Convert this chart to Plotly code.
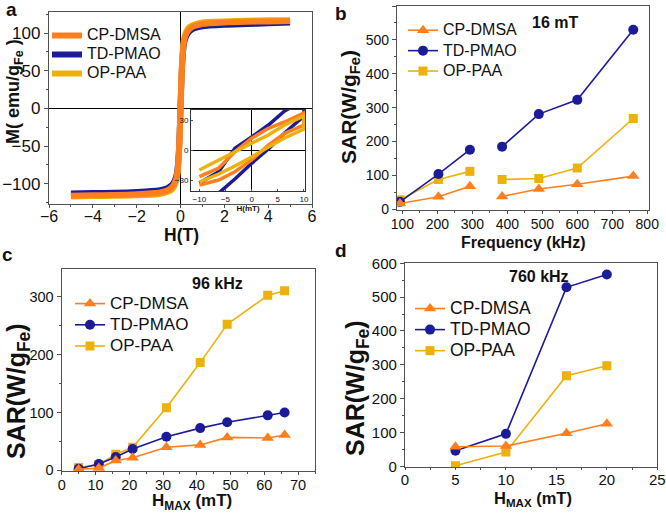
import plotly.graph_objects as go

# ---------------- data ----------------
names = ["CP-DMSA", "TD-PMAO", "OP-PAA"]
colors = {"CP-DMSA": "#FF7F1E", "TD-PMAO": "#1C1C98", "OP-PAA": "#EDB10C"}
symbols = {"CP-DMSA": "triangle-up", "TD-PMAO": "circle", "OP-PAA": "square"}
msize = {"CP-DMSA": 11, "TD-PMAO": 10, "OP-PAA": 9}

# panel a: M(H) main curves
H_T = [-5, -4, -3, -2, -1, -0.6, -0.4, -0.3, -0.2, -0.15, -0.1, -0.05, 0,
       0.05, 0.1, 0.15, 0.2, 0.3, 0.4, 0.6, 1, 2, 3, 4, 5]
M_cp = [-116, -115.5, -115, -114, -112, -109, -105, -101, -94, -87, -72, -45, 0,
        45, 72, 87, 94, 101, 105, 109, 112, 114, 115, 115.5, 116]
M_td = [-113, -112.5, -112, -111, -109, -106, -102, -98, -91, -84, -69, -43, 0,
        43, 69, 84, 91, 98, 102, 106, 109, 111, 112, 113, 114]
M_op = [-117, -116.5, -116, -115.5, -114, -111, -108, -104, -97, -90, -75, -47, 0,
        47, 75, 90, 97, 104, 108, 111, 114, 115.5, 116.5, 117, 117]

# panel a inset: loops (lower branch -10 -> 10, then upper branch 10 -> -10), H in mT
loop_H = [-10, -6.3, -3.2, 0, 3.2, 6.3, 10, 10, 6.3, 3.2, 0, -3.2, -6.3, -10]
loop_cp = [-35, -30, -21.7, -10, 5, 16.7, 25, 37, 28, 21.7, 11.7, -1.7, -18, -26.7]
loop_td = [-50, -43, -29, -13.3, 1, 17, 34, 50, 39, 25, 13, 1.7, -21.7, -33]
loop_op = [-32, -24, -16, -7, 3, 12, 21, 34, 25, 15, 6.7, -2, -10, -20]

# panel b: SAR vs frequency at 16 mT (gap between 300 and 385 kHz)
freq = [93, 203, 293, None, 385, 490, 600, 760]
b_cp = [17, 37, 68, None, 38, 60, 74, 98]
b_td = [22, 104, 176, None, 185, 281, 323, 530]
b_op = [28, 88, 112, None, 88, 91, 122, 268]

# panel c: SAR vs Hmax at 96 kHz
hc = [5, 11, 16, 21, 31, 41, 49, 61, 66]
c_cp = [2, 4, 17, 22, 40, 44, 57, 56, 61]
c_td = [3, 11, 23, 37, 58, 73, 83, 95, 100]
c_op = [5, 10, 28, 40, 108, 186, 252, 302, 310]

# panel d: SAR vs Hmax at 760 kHz
hd = [5, 10, 16, 20]
d_cp = [58, 60, 98, 126]
d_td = [46, 96, 529, 567]
d_op = [2, 42, 268, 297]

FONT = "Liberation Sans, Arial, sans-serif"
AX = "#505050"
RANK = {"CP-DMSA": 1, "TD-PMAO": 2, "OP-PAA": 3}
LEGSIZE = {"legend": 16, "legend2": 16, "legend3": 17, "legend4": 17.5}

def lname(nm, lg):
    return '<span style="font-size:%spx">%s</span>' % (LEGSIZE[lg], nm)

fig = go.Figure()

# ---- panel a ----
for nm, M in [("TD-PMAO", M_td), ("OP-PAA", M_op), ("CP-DMSA", M_cp)]:
    fig.add_trace(go.Scatter(x=H_T, y=M, mode="lines", name=lname(nm, "legend"),
                             line=dict(color=colors[nm], width=6, shape="spline", smoothing=0.6),
                             xaxis="x", yaxis="y", legend="legend", legendrank=RANK[nm]))
for nm, L in [("TD-PMAO", loop_td), ("CP-DMSA", loop_cp), ("OP-PAA", loop_op)]:
    fig.add_trace(go.Scatter(x=loop_H, y=L, mode="lines", showlegend=False,
                             line=dict(color=colors[nm], width=3.5),
                             xaxis="x5", yaxis="y5"))

# ---- panels b, c, d ----
panel_data = [
    ("x2", "y2", "legend2", freq, {"CP-DMSA": b_cp, "TD-PMAO": b_td, "OP-PAA": b_op}),
    ("x3", "y3", "legend3", hc, {"CP-DMSA": c_cp, "TD-PMAO": c_td, "OP-PAA": c_op}),
    ("x4", "y4", "legend4", hd, {"CP-DMSA": d_cp, "TD-PMAO": d_td, "OP-PAA": d_op}),
]
for xa, ya, lg, xs, ser in panel_data:
    for nm in ["OP-PAA", "TD-PMAO", "CP-DMSA"]:
        fig.add_trace(go.Scatter(x=xs, y=ser[nm], mode="lines+markers", name=lname(nm, lg),
                                 line=dict(color=colors[nm], width=1.6),
                                 marker=dict(symbol=symbols[nm], size=msize[nm], color=colors[nm]),
                                 xaxis=xa, yaxis=ya, legend=lg, connectgaps=False,
                                 legendrank=RANK[nm]))

def axis(domain, rng, dtick, minor_dtick, tsize, anchor, zl=False, tl=4, so=0):
    return dict(domain=domain, range=rng, dtick=dtick, tick0=0, anchor=anchor, automargin=False,
                showline=True, linecolor=AX, linewidth=1.3, mirror=True,
                ticks="outside", ticklen=tl, tickwidth=1.2, tickcolor=AX, ticklabelstandoff=so,
                minor=dict(dtick=minor_dtick, ticks="outside", ticklen=2, tickcolor=AX, tickwidth=1),
                showgrid=False, zeroline=zl, zerolinecolor="black", zerolinewidth=1,
                tickfont=dict(size=tsize, color="#111", family=FONT))

W, Hh = 666, 513
def dx(a, b): return [a / W, b / W]
def dy(top, bot): return [1 - bot / Hh, 1 - top / Hh]

lay = dict(
    width=W, height=Hh, margin=dict(l=0, r=0, t=0, b=0, autoexpand=False),
    paper_bgcolor="white", plot_bgcolor="white",
    font=dict(family=FONT, color="#111"),
    xaxis=axis(dx(49, 312), [-6, 6], 2, 1, 16, "y", zl=True, tl=3, so=-5),
    yaxis=axis(dy(12, 204), [-127, 128], 50, 25, 17, "x", zl=True),
    xaxis2=axis(dx(397, 649), [84.6, 805], 100, 50, 14, "y2", tl=3, so=-2),
    yaxis2=axis(dy(6, 210), [-2, 600], 100, 50, 14, "x2"),
    xaxis3=axis(dx(61.7, 315), [0, 75], 10, 5, 14.5, "y3", tl=3, so=-3),
    yaxis3=axis(dy(268.7, 471), [-1, 348], 100, 50, 14.5, "x3"),
    xaxis4=axis(dx(405, 657.3), [0, 25], 5, 2.5, 15, "y4", tl=2, so=-3),
    yaxis4=axis(dy(263.3, 467), [-2, 600], 100, 50, 15, "x4"),
    xaxis5=axis(dx(191, 305), [-11.6, 10.2], 5, 5, 8, "y5", zl=True),
    yaxis5=axis(dy(110, 191), [-41, 40], 30, 30, 8, "x5", zl=True),
)
lay["xaxis5"].update(ticklen=2, minor=dict(ticks=""), ticks="inside", linewidth=1, linecolor="#333")
lay["yaxis5"].update(ticklen=2, minor=dict(ticks=""), ticks="inside", linewidth=1, linecolor="#333")
lay["xaxis5"]["title"] = dict(text="H(mT)", font=dict(size=8, family=FONT, color="#111", weight="bold"), standoff=0)

def leg(x, y, base):
    return dict(x=x / W, y=1 - y / Hh, xanchor="left", yanchor="top", bgcolor="rgba(0,0,0,0)",
                font=dict(size=base, family=FONT, color="#111"), tracegroupgap=0,
                itemwidth=30, borderwidth=0)

lay["legend"] = leg(47, 21, 12.3)
lay["legend2"] = leg(403, 15, 13.4)
lay["legend3"] = leg(70, 288, 14.0)
lay["legend4"] = leg(410, 293, 13.9)

def txt(t, x, y, size, angle=0, xa="center", ya="middle"):
    return dict(text=t, x=x / W, y=1 - y / Hh, xref="paper", yref="paper", xanchor=xa, yanchor=ya,
                textangle=angle, showarrow=False, font=dict(size=size, family=FONT, color="#111"))

lay["annotations"] = [
    # panel letters
    txt("<b>a</b>", 11, 9, 19),
    txt("<b>b</b>", 341, 13, 19),
    txt("<b>c</b>", 7, 255, 19),
    txt("<b>d</b>", 341, 250, 19),
    # panel conditions
    txt("<b>16 mT</b>", 555, 22, 16),
    txt("<b>96 kHz</b>", 217, 283, 16),
    txt("<b>760 kHz</b>", 539, 276, 16),
    # axis titles
    txt("<b>H(T)</b>", 181, 235, 17.5),
    txt("<b>M( emu/g<sub>Fe</sub> )</b>", 14, 92, 18, -90),
    txt("<b>Frequency (kHz)</b>", 523, 242, 16),
    txt("<b>SAR(W/g<sub>Fe</sub>)</b>", 350, 107, 21, -90),
    txt("<b>H<sub>MAX</sub> (mT)</b>", 192, 502, 17),
    txt("<b>SAR(W/g<sub>Fe</sub>)</b>", 18, 391, 25, -90),
    txt("<b>H<sub>MAX</sub> (mT)</b>", 533, 499, 16.5),
    txt("<b>SAR(W/g<sub>Fe</sub>)</b>", 357, 388, 25, -90),
]

fig.update_layout(**lay)
fig.write_html("out.html", config={"displayModeBar": False},
               post_script="document.body.style.margin='0';")
